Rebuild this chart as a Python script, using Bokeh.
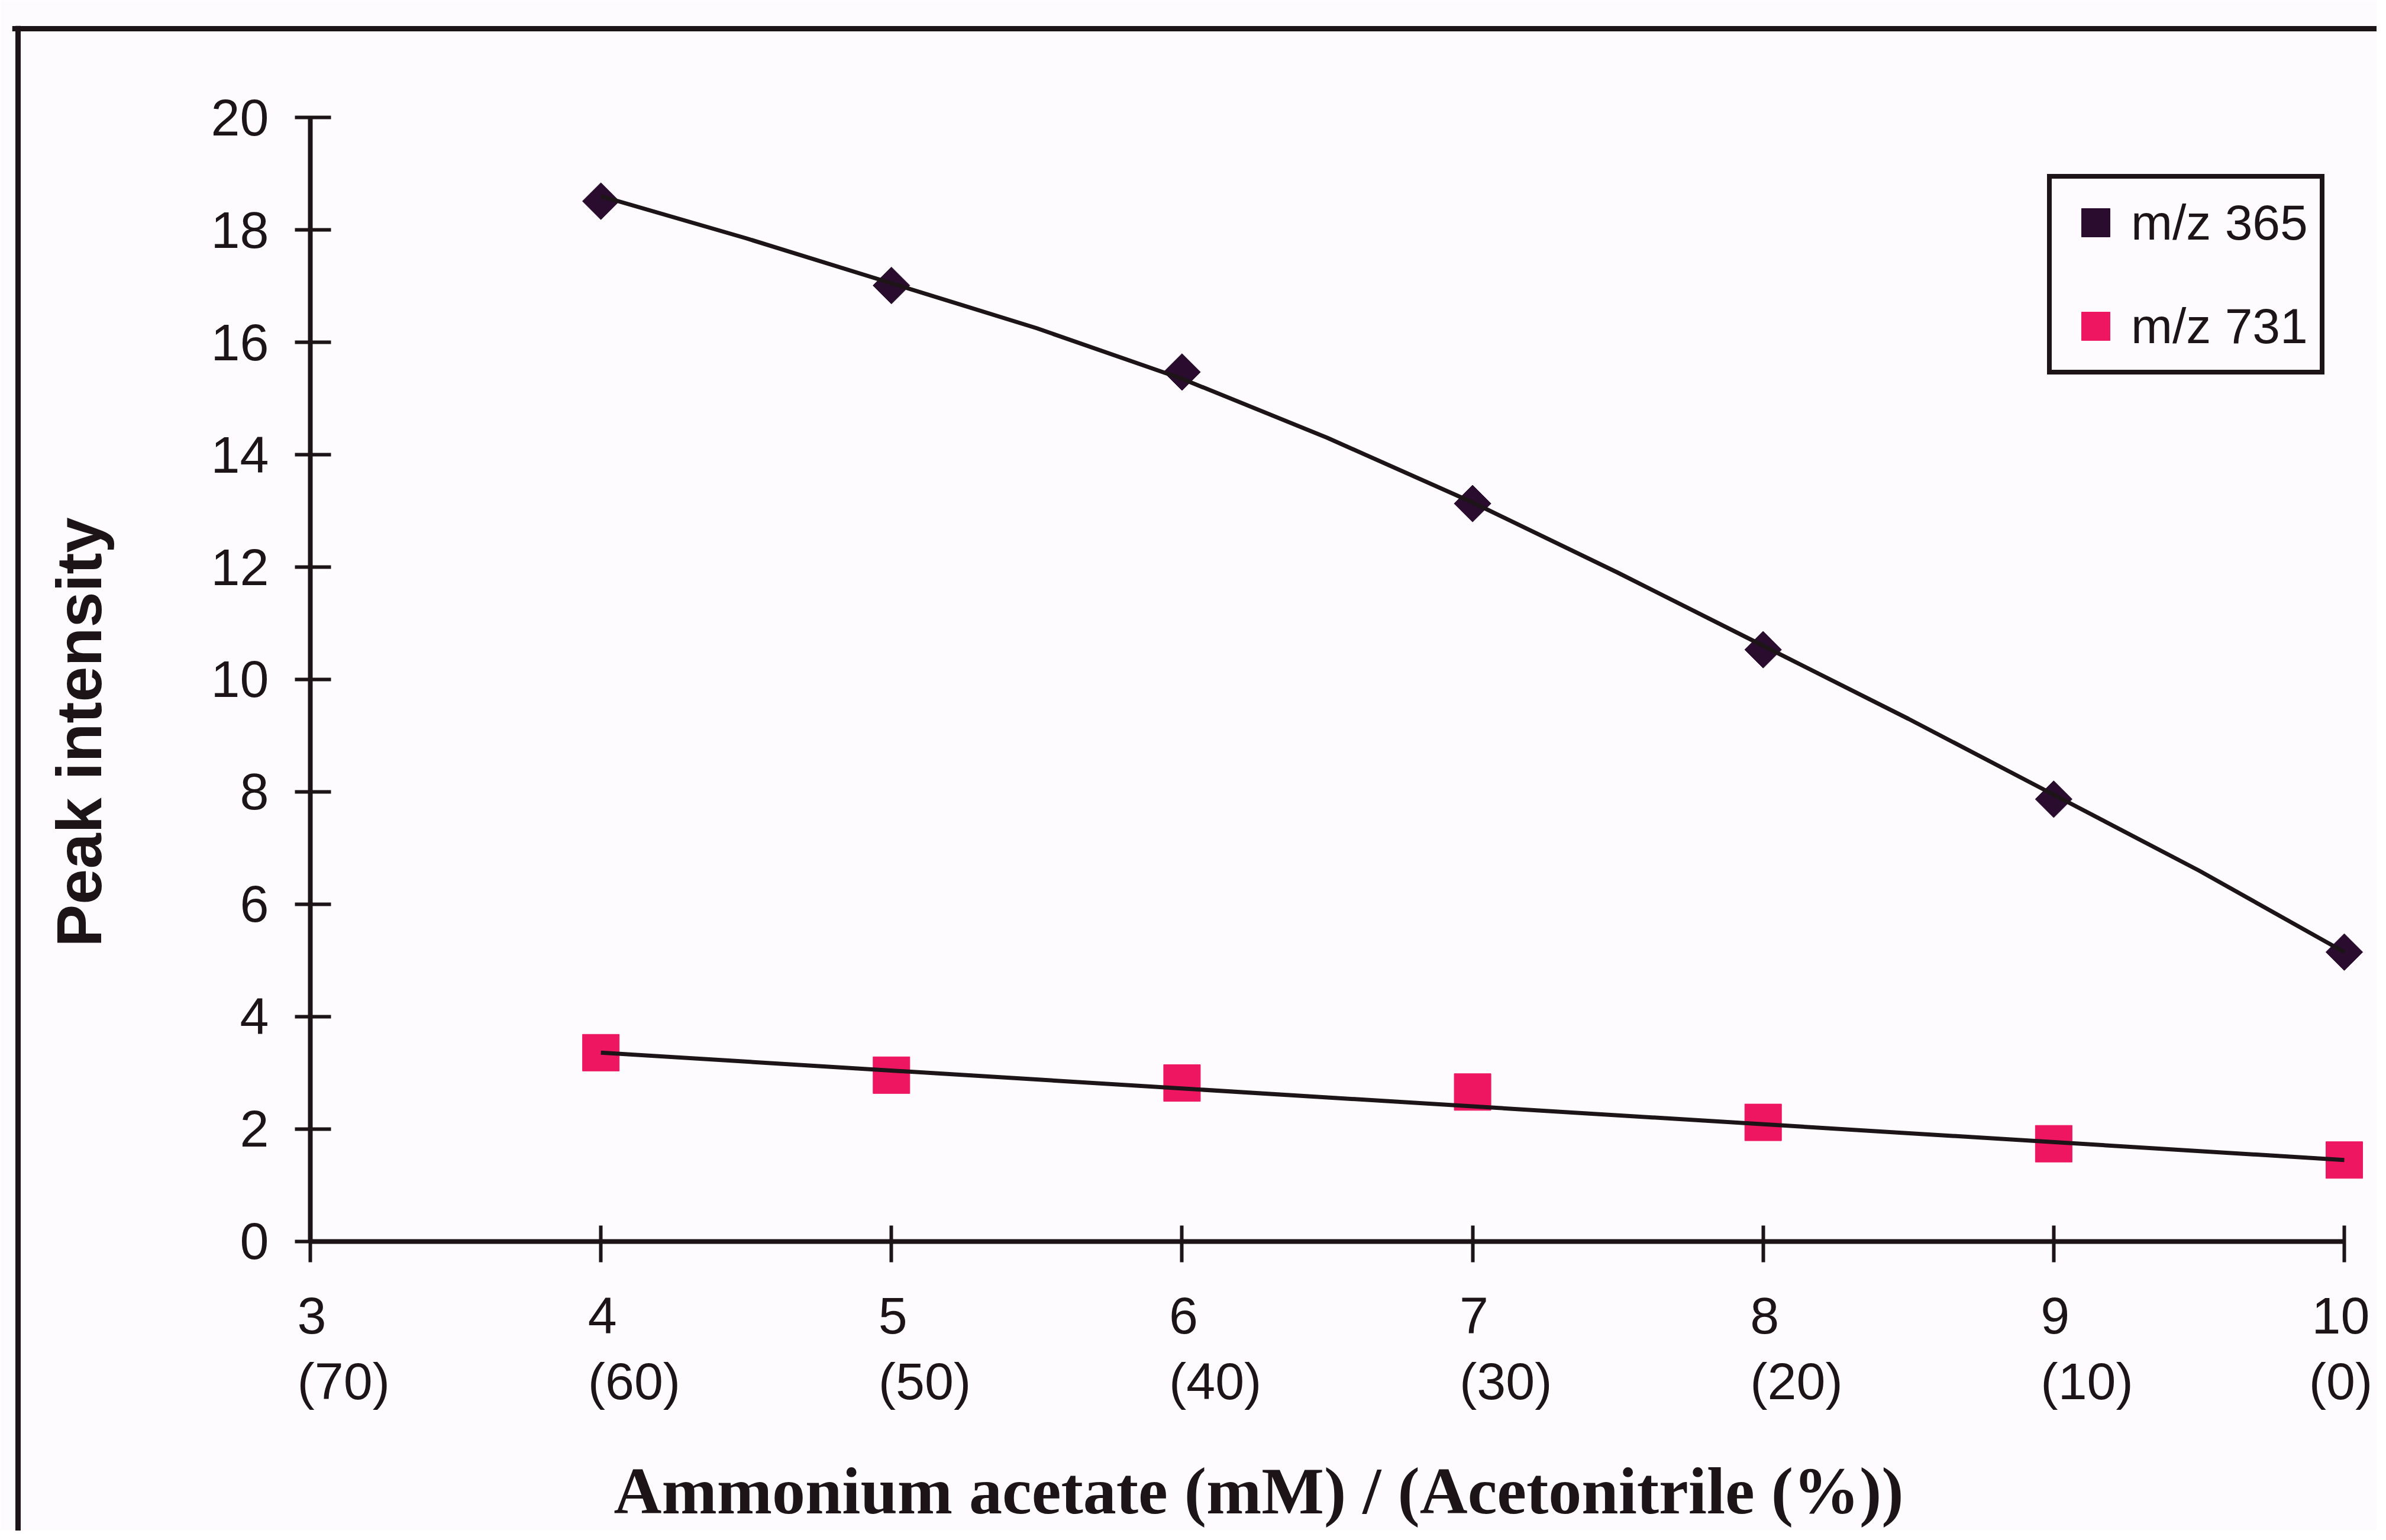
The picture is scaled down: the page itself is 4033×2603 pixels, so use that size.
import numpy as np
from bokeh.plotting import figure
from bokeh.models import (Range1d, LinearAxis, FixedTicker, Span, Legend,
                          LegendItem, Label, ColumnDataSource)
from bokeh.core.properties import value
from bokeh.embed import file_html
from bokeh.resources import INLINE

# ---- data ----
conc_mM = [4, 5, 6, 7, 8, 9, 10]
mz365 = [18.51, 17.01, 15.47, 13.13, 10.53, 7.87, 5.15]
mz731 = [3.36, 2.96, 2.82, 2.66, 2.12, 1.74, 1.45]

trend365_x = [4, 4.5, 5, 5.5, 6, 6.5, 7, 7.5, 8, 8.5, 9, 9.5, 10]
trend365_y = [18.6, 17.85, 17.05, 16.25, 15.35, 14.3, 13.15, 11.9, 10.6, 9.3, 7.95, 6.6, 5.15]
trend731_x = [4, 10]
trend731_y = [3.36, 1.45]

x_ticks = [3, 4, 5, 6, 7, 8, 9, 10]
acetonitrile_pct = [70, 60, 50, 40, 30, 20, 10, 0]
y_ticks = [0, 2, 4, 6, 8, 10, 12, 14, 16, 18, 20]

x_title = "Ammonium acetate (mM) / (Acetonitrile (%))"
y_title = "Peak intensity"
series_names = ["m/z 365", "m/z 731"]

# ---- styling ----
INK = "#1c1416"
BG = "#fdfbfd"
SANS = "Liberation Sans"

W, H = 4017, 2587
p = figure(width=W, height=H, output_backend="svg", toolbar_location=None,
           x_range=Range1d(1.97382, 10.1120), y_range=Range1d(-5.1474, 21.6316),
           x_axis_type=None, y_axis_type=None,
           min_border_left=20, min_border_top=43, min_border_right=0, min_border_bottom=0)
p.outline_line_color = None
p.background_fill_color = BG
p.border_fill_color = BG

# outer frame (left and top edges visible in the reference)
p.add_layout(Span(location=1.99419, dimension="height", line_color=INK, line_width=9))
p.add_layout(Span(location=21.5789, dimension="width", line_color=INK, line_width=9))

# y axis
yaxis = LinearAxis(fixed_location=3, bounds=(0, 20), ticker=FixedTicker(ticks=y_ticks))
yaxis.axis_line_width = 8
yaxis.axis_line_color = INK
yaxis.major_tick_line_width = 6
yaxis.major_tick_line_color = INK
yaxis.major_tick_in = 35
yaxis.major_tick_out = 26
yaxis.minor_tick_line_color = None
yaxis.major_label_text_font = SANS
yaxis.major_label_text_font_size = "88px"
yaxis.major_label_text_color = INK
yaxis.major_label_standoff = 44
p.add_layout(yaxis, "left")

# x axis (tick labels drawn below as two-line texts)
xaxis = LinearAxis(fixed_location=0, bounds=(3, 10), ticker=FixedTicker(ticks=x_ticks))
xaxis.major_label_overrides = {t: "" for t in x_ticks}
xaxis.axis_line_width = 8
xaxis.axis_line_color = INK
xaxis.major_tick_line_width = 6
xaxis.major_tick_line_color = INK
xaxis.major_tick_in = 27
xaxis.major_tick_out = 35
xaxis.minor_tick_line_color = None
p.add_layout(xaxis, "below")

tick_labels = [f"{t}\n({a})" for t, a in zip(x_ticks, acetonitrile_pct)]
inner_src = ColumnDataSource(dict(x=x_ticks[:-1], y=[0] * (len(x_ticks) - 1),
                                  label=tick_labels[:-1]))
last_src = ColumnDataSource(dict(x=x_ticks[-1:], y=[0], label=tick_labels[-1:]))
tick_style = dict(text_font=value(SANS), text_font_size="88px", text_color=INK,
                  text_baseline="top", y_offset=76, text_line_height=1.12)
p.text(x="x", y="y", text="label", source=inner_src, text_align="left",
       x_offset=-22, **tick_style)
p.text(x="x", y="y", text="label", source=last_src, text_align="center",
       x_offset=-6, **tick_style)

# axis titles
p.add_layout(Label(x=6.264, y=-4.442, text=x_title, text_font="Liberation Serif",
                   text_font_style="bold", text_font_size="112px", text_color=INK,
                   text_align="center", text_baseline="alphabetic"))
p.add_layout(Label(x=2.2039, y=9.063, text=y_title, angle=np.pi / 2, text_font=SANS,
                   text_font_style="bold", text_font_size="108px", text_color=INK,
                   text_align="center", text_baseline="alphabetic"))

# markers
r365 = p.scatter(conc_mM, mz365, marker="square", angle=np.pi / 4, size=44,
                 fill_color="#2a0d2e", line_color="#2a0d2e")
r731 = p.scatter(conc_mM, mz731, marker="square", size=62,
                 fill_color="#ee1561", line_color="#ee1561")

# trend lines
p.line(trend365_x, trend365_y, line_width=7, line_color=INK)
p.line(trend731_x, trend731_y, line_width=7, line_color=INK)

legend = Legend(items=[LegendItem(label=series_names[0], renderers=[r365]),
                       LegendItem(label=series_names[1], renderers=[r731])],
                location=(3440, 1954))
legend.border_line_color = INK
legend.border_line_alpha = 1.0
legend.border_line_width = 8
legend.background_fill_color = BG
legend.background_fill_alpha = 1.0
legend.label_text_font = SANS
legend.label_text_font_size = "84px"
legend.label_text_color = INK
legend.glyph_width = 120
legend.glyph_height = 120
legend.padding = 14
legend.spacing = 55
legend.label_standoff = 0
legend.label_width = 305
legend.margin = 0
p.add_layout(legend)

open("out.html", "w").write(file_html(p, INLINE))
